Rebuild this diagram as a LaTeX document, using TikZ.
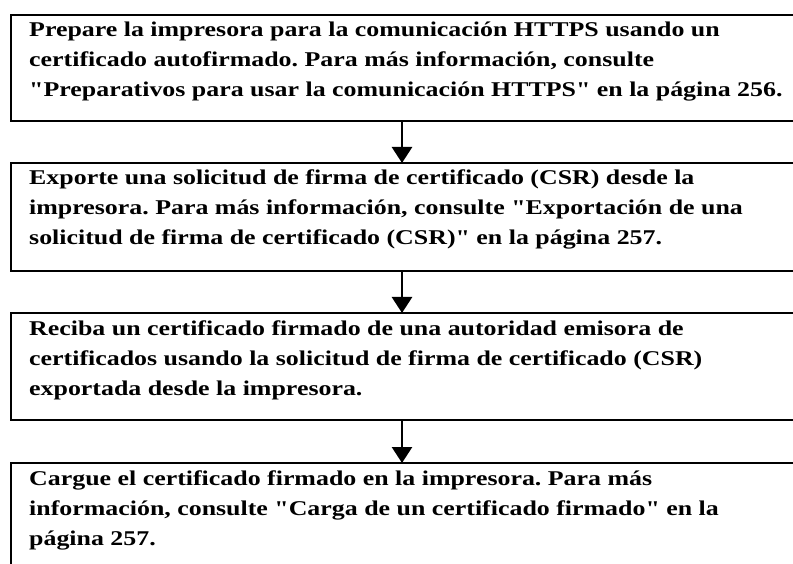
\documentclass[tikz,border=0pt]{standalone}
\usepackage{fontspec}
\setmainfont{Liberation Serif}[Ligatures=TeXOff,FakeStretch=1.233]
\usetikzlibrary{arrows.meta,calc}
\begin{document}
\begin{tikzpicture}[x=1pt,y=-1pt,
  stepbox/.style={draw=black,line width=2.8pt,rectangle,anchor=north west,
    minimum width=789pt,minimum height=#1,inner sep=0pt,outer sep=0pt},
  boxtext/.style={anchor=base west,inner sep=0pt,font=\bfseries\fontsize{21}{30}\selectfont},
  flow/.style={line width=2.8pt,-{Triangle[length=16pt,width=20pt]},shorten >=0pt}
]
\frenchspacing
\useasboundingbox (0,0) rectangle (793,564);
\clip (0,0) rectangle (793,564);
\node[stepbox=106pt] (b1) at (11,15) {};
\node[stepbox=108pt] (b2) at (11,163) {};
\node[stepbox=107pt] (b3) at (11,313) {};
\node[stepbox=140pt] (b4) at (11,463) {};
\node[boxtext] (t1) at ($(b1.north west)+(18,22)$) {\parbox[t]{770pt}{\raggedright\frenchspacing
Prepare la impresora para la comunicación HTTPS usando un\\
certificado autofirmado. Para más información, consulte\\
"Preparativos para usar la comunicación HTTPS" en la página 256.}};
\node[boxtext] (t2) at ($(b2.north west)+(18,22)$) {\parbox[t]{770pt}{\raggedright\frenchspacing
Exporte una solicitud de firma de certificado (CSR) desde la\\
impresora. Para más información, consulte "Exportación de una\\
solicitud de firma de certificado (CSR)" en la página 257.}};
\node[boxtext] (t3) at ($(b3.north west)+(18,22)$) {\parbox[t]{770pt}{\raggedright\frenchspacing
Reciba un certificado firmado de una autoridad emisora de\\
certificados usando la solicitud de firma de certificado (CSR)\\
exportada desde la impresora.}};
\node[boxtext] (t4) at ($(b4.north west)+(18,22)$) {\parbox[t]{770pt}{\raggedright\frenchspacing
Cargue el certificado firmado en la impresora. Para más\\
información, consulte "Carga de un certificado firmado" en la\\
página 257.}};
\draw[flow] ([xshift=-3.5pt]b1.south) -- ([xshift=-3.5pt]b2.north);
\draw[flow] ([xshift=-3.5pt]b2.south) -- ([xshift=-3.5pt]b3.north);
\draw[flow] ([xshift=-3.5pt]b3.south) -- ([xshift=-3.5pt]b4.north);
\end{tikzpicture}
\end{document}
